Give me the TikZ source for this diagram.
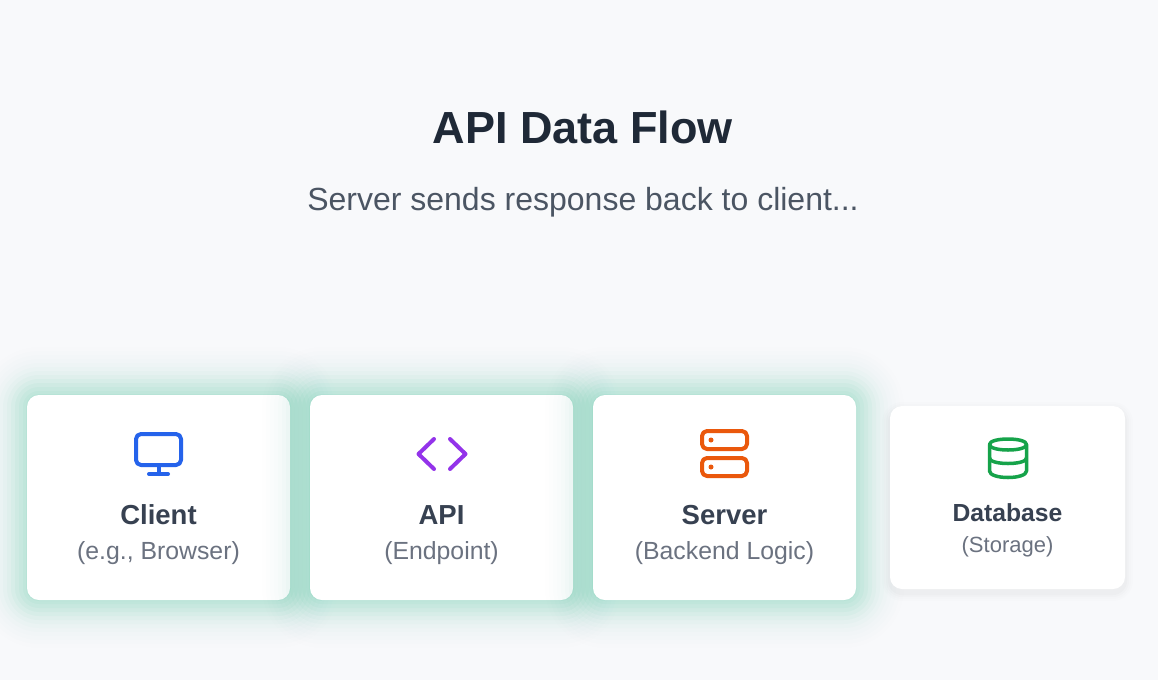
\documentclass[tikz,border=0pt]{standalone}
\usepackage{fontspec}
\usepackage{xcolor}
\setmainfont{Liberation Sans}
\definecolor{pagebg}{HTML}{F8F9FB}
\definecolor{glowgreen}{HTML}{10B981}
\definecolor{titleink}{HTML}{1F2937}
\definecolor{subink}{HTML}{4B5563}
\definecolor{nameink}{HTML}{374151}
\definecolor{noteink}{HTML}{6B7280}
\definecolor{iconblue}{HTML}{2563EB}
\definecolor{iconpurple}{HTML}{9333EA}
\definecolor{iconorange}{HTML}{EA580C}
\definecolor{icongreen}{HTML}{16A34A}
\newcommand{\cardglow}[4]{
    \foreach \d/\o in {48/.005,44/.006,40/.007,36/.009,32/.011,28/.014,24/.020,20/.028,16/.036,12/.040,8/.040,4/.035,1/.050} {
        \fill[glowgreen, opacity=\o, rounded corners=12pt+\d*1pt] (#1-\d, #2-\d) rectangle (#3+\d, #4+\d);
    }
}
\begin{document}
\begin{tikzpicture}[x=1pt, y=-1pt]
            \tikzstyle{bigcard} = [fill=white, rounded corners=12pt, minimum width=263pt, minimum height=205pt, inner sep=0pt]
            \tikzstyle{smallcard} = [fill=white, rounded corners=12pt, minimum width=235pt, minimum height=183pt, inner sep=0pt]
            \tikzstyle{cardname} = [anchor=base, text=nameink, font=\fontsize{27.5}{27}\selectfont\bfseries]
            \tikzstyle{cardnote} = [anchor=base, text=noteink, font=\fontsize{24.8}{27}\selectfont]
            \tikzstyle{icon} = [line width=4pt, line cap=round, line join=round]
            \useasboundingbox (0, 0) rectangle (1158, 680);
            \clip (0, 0) rectangle (1158, 680);
            \fill[pagebg] (0, 0) rectangle (1158, 680);
            \node[anchor=base, text=titleink, font=\fontsize{45}{48}\selectfont\bfseries] (title) at (583, 143) {API Data Flow};
            \node[anchor=base, text=subink, font=\fontsize{32}{32}\selectfont] (subtitle) at (583, 210) {Server sends response back to client...};

            \cardglow{27}{395}{290}{600}
            \node[bigcard] (clientcard) at (158.5, 497.5) {};
            \cardglow{310}{395}{573}{600}
            \node[bigcard] (apicard) at (441.5, 497.5) {};
            \cardglow{593}{395}{856}{600}
            \node[bigcard] (servercard) at (724.5, 497.5) {};
            \foreach \d/\o in {8/.006,6/.008,4/.012,2/.016} {
                \fill[black, opacity=\o, rounded corners=12pt+\d*1pt] (890-\d, 406-\d+4) rectangle (1125+\d, 589+\d+4);
            }
            \node[smallcard] (databasecard) at (1007.5, 497.5) {};

            \draw[icon, iconblue, rounded corners=5pt] (136, 434) rectangle (181, 465);
            \draw[icon, iconblue] (158.5, 465) -- (158.5, 474);
            \draw[icon, iconblue] (149, 474) -- (168, 474);
            \node[cardname] (clientname) at (158.5, 524) {Client};
            \node[cardnote] (clientnote) at (158.5, 559) {(e.g., Browser)};

            \draw[icon, iconpurple] (434, 439) -- (418.5, 454) -- (434, 469);
            \draw[icon, iconpurple] (450, 439) -- (465.5, 454) -- (450, 469);
            \node[cardname] (apiname) at (441.5, 524) {API};
            \node[cardnote] (apinote) at (441.5, 559) {(Endpoint)};

            \draw[icon, iconorange, rounded corners=5pt] (702, 431) rectangle (747, 449);
            \draw[icon, iconorange, rounded corners=5pt] (702, 458) rectangle (747, 476);
            \fill[iconorange] (711, 440) circle[radius=2.5pt];
            \fill[iconorange] (711, 467) circle[radius=2.5pt];
            \node[cardname] (servername) at (724.5, 524) {Server};
            \node[cardnote] (servernote) at (724.5, 559) {(Backend Logic)};

            \draw[icon, icongreen, line width=3.5pt] (1008, 439) .. controls (998, 439) and (989.5, 441) .. (989.5, 444.5) .. controls (989.5, 448) and (998, 450) .. (1008, 450) .. controls (1018, 450) and (1026.5, 448) .. (1026.5, 444.5) .. controls (1026.5, 441) and (1018, 439) .. (1008, 439);
            \draw[icon, icongreen, line width=3.5pt] (989.5, 444.5) -- (989.5, 471) .. controls (989.5, 475) and (998, 477.5) .. (1008, 477.5) .. controls (1018, 477.5) and (1026.5, 475) .. (1026.5, 471) -- (1026.5, 444.5);
            \draw[icon, icongreen, line width=3.5pt] (989.5, 458) .. controls (989.5, 461.5) and (998, 463.5) .. (1008, 463.5) .. controls (1018, 463.5) and (1026.5, 461.5) .. (1026.5, 458);
            \node[cardname, font=\fontsize{24.7}{24}\selectfont\bfseries] (databasename) at (1007.5, 521) {Database};
            \node[cardnote, font=\fontsize{22}{24}\selectfont] (databasenote) at (1007.5, 552) {(Storage)};
\end{tikzpicture}
\end{document}
